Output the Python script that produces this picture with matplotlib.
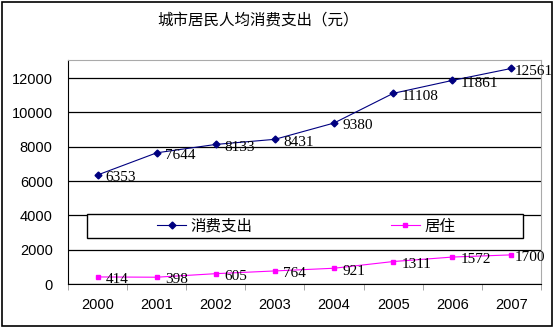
import numpy as np
import matplotlib.pyplot as plt
from matplotlib.patches import Rectangle

plt.rcParams['font.family'] = ['Noto Sans CJK SC', 'DejaVu Sans']

years = ['2000', '2001', '2002', '2003', '2004', '2005', '2006', '2007']
spending = [6353, 7644, 8133, 8431, 9380, 11108, 11861, 12561]
housing = [414, 398, 605, 764, 921, 1311, 1572, 1700]

fig = plt.figure(figsize=(5.54, 3.28), dpi=100)
ax = fig.add_axes([0.1227, 0.134, 0.8538, 0.683])

x = np.arange(len(years))
ax.plot(x, spending, '-D', color='#000080', lw=0.8, ms=3.5, label='消费支出')
ax.plot(x, housing, '-s', color='#FF00FF', lw=0.8, ms=3.5, label='居住')

# value labels to the lower right of each point (last ones pulled in a bit)
for series in (spending, housing):
    for xi, v in zip(x, series):
        dx = 2 if xi == x[-1] else 6
        ax.annotate(str(v), (xi, v), xytext=(dx, -2), textcoords='offset points',
                    va='center', ha='left', fontsize=11,
                    family='Liberation Serif', annotation_clip=False)

ax.set_xlim(-0.5, len(years) - 0.5)
ax.set_ylim(0, 13050)
ax.set_yticks(np.arange(0, 13000, 2000))
ax.yaxis.grid(True, color='black', lw=0.9)
ax.set_axisbelow(True)

ax.set_xticks(x)
ax.set_xticklabels(years)
ax.set_xticks(np.arange(-0.5, len(years), 1), minor=True)
ax.tick_params(axis='x', which='major', length=0, pad=10, labelsize=10.5)
ax.tick_params(axis='x', which='minor', length=4, color='#999999', direction='out')
ax.tick_params(axis='y', length=0, pad=11, labelsize=10.5)
for lbl in ax.get_xticklabels() + ax.get_yticklabels():
    lbl.set_family('Liberation Sans')

for s in ['top', 'right']:
    ax.spines[s].set_color('#aaaaaa')
    ax.spines[s].set_linewidth(0.8)
ax.spines['left'].set_color('black')
ax.spines['bottom'].set_color('black')

# legend sits inside the plot area in its own white box
box = Rectangle((0.04, 0.205), 0.922, 0.107, transform=ax.transAxes,
                facecolor='white', edgecolor='black', lw=1.0, zorder=4)
ax.add_patch(box)
leg = ax.legend(loc='center', bbox_to_anchor=(0.503, 0.259), ncol=2,
                frameon=False, fontsize=11.2, handlelength=1.9,
                handletextpad=0.25, columnspacing=8.9, borderpad=0)
leg.set_zorder(5)

fig.text(0.465, 0.939, '城市居民人均消费支出（元）', ha='center', va='center',
         fontsize=11.2)

fig.patches.append(Rectangle((0.004, 0.006), 0.992, 0.988, transform=fig.transFigure,
                             fill=False, edgecolor='black', lw=1.2))

fig.savefig('out.png', dpi=100)
